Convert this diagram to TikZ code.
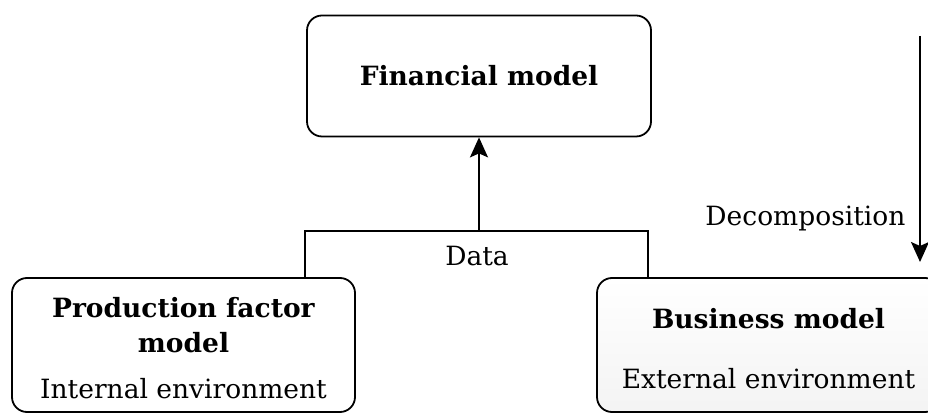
\documentclass[tikz,border=0pt]{standalone}
\usepackage{fontspec}
\setmainfont{DejaVu Serif}
\usepackage{tikz}
\usetikzlibrary{arrows.meta,positioning,calc}

\tikzset{
    modelbox/.style={draw, line width=1.8pt, rounded corners=15pt, align=center,
        inner sep=0pt, font=\fontsize{26.5}{35}\selectfont},
    flow/.style={line width=1.8pt},
    arr/.style={line width=1.8pt, -{Stealth[length=20pt,width=18pt,inset=4pt]}}
}

\begin{document}
\begin{tikzpicture}[x=1pt, y=1pt]
    % page frame
    \useasboundingbox (0,0) rectangle (928,414);

    % Boxes
    \node [modelbox, minimum width=344pt, minimum height=121pt] (fin) at (479,338)
        {\textbf{Financial model}};
    \node [modelbox, minimum width=343pt, minimum height=134pt] (prod) at (183.5,69)
        {\rule{0pt}{27pt}\textbf{Production factor}\\ \textbf{model}\\[11pt] Internal environment};
    \node [modelbox, minimum width=343pt, minimum height=134pt,
        top color=white, bottom color=gray!9] (bus) at (768.5,69)
        {\rule{0pt}{28pt}\textbf{Business model}\\[25pt] External environment};

    % Data collection
    \coordinate (jl) at (305,183);
    \coordinate (jr) at (648,183);
    \draw [flow] (jl |- prod.north) -- (jl) -- (jr) -- (jr |- bus.north);
    \draw [arr] (fin.south |- jl) -- (fin.south);
    \node [font=\fontsize{26.5}{35}\selectfont] (data) at (477,158) {Data};

    % Decomposition
    \coordinate (dtop) at (920,378);
    \coordinate (dbot) at (920,152);
    \draw [arr] (dtop) -- (dbot);
    \node [anchor=east, font=\fontsize{26.5}{35}\selectfont] (dec) at (909,195) {Decomposition};
\end{tikzpicture}
\end{document}
